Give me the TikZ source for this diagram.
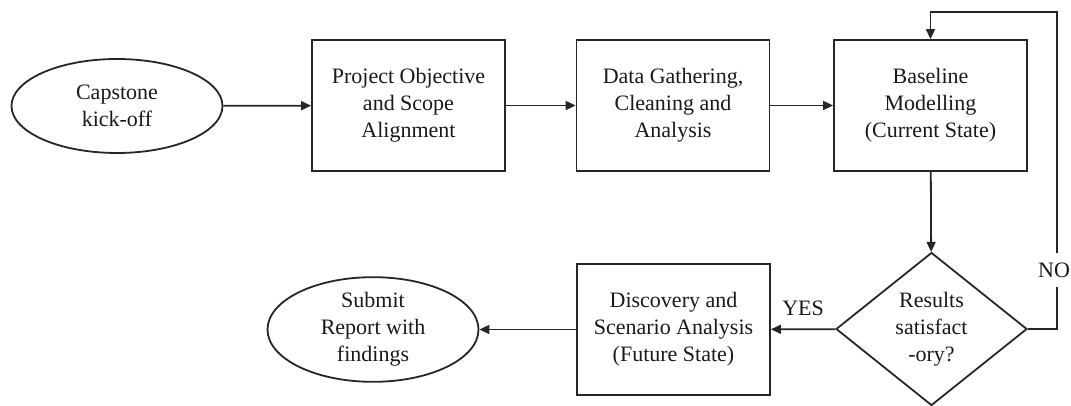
\documentclass[tikz,border=0pt]{standalone}
\usepackage{fontspec}
\setmainfont{Liberation Serif}
\usetikzlibrary{shapes.geometric,arrows.meta}
\begin{document}
\begin{tikzpicture}[x=1pt,y=-1pt,
  every node/.style={font=\fontsize{22}{27}\selectfont, text=black!90, align=center},
  line/.style={line width=1.8pt, draw=black!85},
  flow/.style={line, -{Triangle[length=10pt,width=9pt]}},
  terminal/.style={ellipse, line, minimum width=211pt, minimum height=94pt, inner sep=0pt},
  stepbox/.style={rectangle, line, minimum width=193pt, minimum height=131pt, inner sep=0pt},
  decision/.style={diamond, line, minimum width=191pt, minimum height=153pt, inner sep=0pt},
  tag/.style={inner sep=0pt}
]
\useasboundingbox (0,0) rectangle (1071,406);

\node[terminal] (start) at (117,106) {Capstone\\kick-off};
\node[stepbox] (scope) at (408.5,105.5) {Project Objective\\and Scope\\Alignment};
\node[stepbox] (data) at (673,105.5) {Data Gathering,\\Cleaning and\\Analysis};
\node[stepbox] (base) at (930.5,105.5) {Baseline\\Modelling\\(Current State)};
\node[decision] (check) at (931.5,329) {Results\\satisfact\\-ory?};
\node[stepbox] (future) at (673.5,329.5) {Discovery and\\Scenario Analysis\\(Future State)};
\node[terminal] (report) at (373,329.5) {Submit\\Report with\\findings};

\coordinate (loopR) at (1057,12);
\coordinate (loopL) at (930.5,12);

\draw[flow] (start) -- (scope);
\draw[flow] (scope) -- (data);
\draw[flow] (data) -- (base);
\draw[flow] (base) -- (check);
\draw[flow] (check) -- node[tag, above=13pt] {YES} (future);
\draw[flow] (future) -- (report);
\draw[flow] (check.east) -| (loopR) -- (loopL) -- (base.north);

\node[fill=white, inner sep=10pt] (no) at (1054,270) {NO};
\end{tikzpicture}
\end{document}
